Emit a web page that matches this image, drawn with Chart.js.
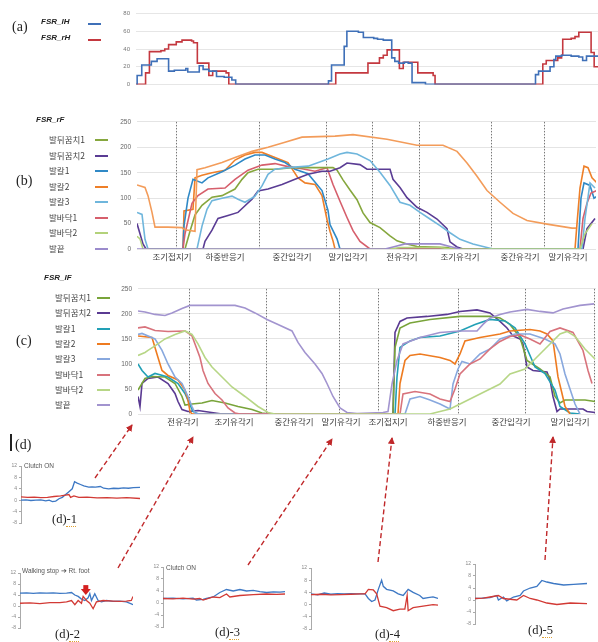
<!DOCTYPE html>
<html>
<head>
<meta charset="utf-8">
<script src="https://cdn.jsdelivr.net/npm/chart.js@4.4.1/dist/chart.umd.min.js"></script>
<style>
  body { margin: 0; background: #fff; }
  #wrap { position: relative; width: 598px; height: 642px; overflow: hidden; font-family: "Noto Sans CJK KR", sans-serif; }
  canvas, .t, svg { position: absolute; }
  .t { white-space: nowrap; line-height: 1; }
  .panel { font-family: "Liberation Serif", serif; font-size: 14px; color: #222; }
  .fsr { font-family: "Liberation Sans", sans-serif; font-weight: bold; font-style: italic; font-size: 8px; color: #222; }
  .leg { font-size: 8.5px; color: #444; }
  .sw { position: absolute; height: 2px; width: 13px; }
  .small { font-family: "Liberation Sans", sans-serif; font-size: 6.5px; color: #555; }
  .dl { font-family: "Liberation Serif", serif; font-size: 12.5px; color: #222; }
</style>
</head>
<body>
<div id="wrap">
  <canvas id="ca" width="498" height="90" style="left:100px;top:4px"></canvas>
  <canvas id="cb" width="497" height="155" style="left:100px;top:112px"></canvas>
  <canvas id="cc" width="497" height="155" style="left:100px;top:279px"></canvas>
  <canvas id="d1" width="1" height="1"></canvas>
  <canvas id="d2" width="1" height="1"></canvas>
  <canvas id="d3" width="1" height="1"></canvas>
  <canvas id="d4" width="1" height="1"></canvas>
  <canvas id="d5" width="1" height="1"></canvas>
  <svg id="arrows" width="598" height="642" style="left:0;top:0"></svg>
</div>
<script>
// ---- (a) heel FSR, stepped: [frame, value]
const lH = [[2,0],[3,10],[15,22],[40,26],[55,29],[85,15],[100,16],[130,18],[135,14],[165,21],[175,17],[190,15],[210,9],[230,8],[250,5],[260,0],
  [500,0],[502,4],[510,22],[540,22],[543,43],[550,60],[580,59],[593,53],[620,52],[630,51],[645,50],[665,50],[667,30],[675,26],[685,24],[700,25],[710,24],[720,2],[755,0],
  [1040,0],[1042,11],[1050,15],[1065,15],[1080,20],[1090,28],[1095,32],[1110,33],[1135,32],[1155,31],[1165,27],[1175,32],[1205,31]];
const rH = [[0,0],[25,13],[35,37],[65,38],[75,40],[85,45],[105,48],[120,50],[145,49],[150,47],[160,24],[190,10],[200,15],[225,15],[235,13],[242,0],
  [520,0],[521,13],[605,24],[630,24],[635,30],[645,33],[655,39],[685,39],[687,18],[697,25],[730,25],[735,13],[770,13],[775,10],[780,0],
  [1060,0],[1061,23],[1070,27],[1095,27],[1100,30],[1110,33],[1113,51],[1135,52],[1145,54],[1155,59],[1185,59],[1187,36],[1195,20],[1205,20]];

// ---- (b) FSR_rF
const rF_heel1 = [[48,0],[53,35],[58,67],[65,86],[75,102],[85,105],[98,118],[105,137],[111,150],[121,157],[138,157],[155,160],[196,160],[200,155],[206,136],[213,116],[220,97],[226,71],[233,52],[243,42],[253,26],[260,16],[270,10],[280,5],[310,3],[316,0]];
const rF_heel2 = [[0,50],[3,30],[6,10],[9,0],[66,0],[68,15],[75,37],[81,60],[91,66],[101,72],[108,85],[115,98],[121,114],[131,118],[145,127],[158,137],[171,147],[185,153],[193,153],[203,160],[210,169],[223,166],[230,157],[253,157],[256,137],[263,121],[270,101],[280,82],[290,72],[300,59],[310,40],[313,14],[320,4],[326,0],[446,0],[450,40],[458,60]];
const rF_mid1 = [[46,0],[47,46],[51,100],[56,137],[65,130],[71,140],[85,152],[98,165],[108,177],[118,185],[128,185],[138,177],[148,170],[158,157],[171,148],[185,115],[191,76],[193,48],[200,20],[203,0],[441,0],[444,100],[447,130],[453,125],[457,100],[461,105]];
const rF_mid2 = [[46,0],[47,75],[56,78],[58,140],[65,145],[75,150],[88,155],[98,175],[108,185],[118,190],[125,190],[138,180],[151,170],[161,140],[168,130],[178,127],[185,105],[190,58],[193,35],[196,16],[198,0],[438,0],[440,50],[443,120],[447,163],[451,160],[455,140],[460,130]];
const rF_mid2b = [[0,126],[8,121],[11,105],[15,72],[18,43],[31,43],[45,42],[48,38],[58,35],[60,156],[68,160],[85,170],[98,180],[115,192],[131,200],[148,210],[165,220],[198,222],[216,225],[250,216],[280,204],[306,204],[320,192],[330,169],[340,143],[350,115],[363,92],[376,70],[390,56],[410,49],[435,41],[439,41]];
const rF_mid3 = [[0,72],[5,68],[8,19],[11,0],[60,0],[65,45],[70,78],[75,95],[85,100],[95,104],[101,98],[108,92],[118,104],[125,124],[131,147],[138,157],[151,160],[171,163],[191,177],[203,187],[210,190],[220,187],[233,174],[243,151],[253,125],[263,92],[273,86],[283,72],[293,59],[303,46],[313,32],[323,19],[336,10],[350,3],[356,0],[445,0],[448,60],[453,130],[458,120]];
const rF_sole1 = [[46,0],[48,30],[55,90],[61,105],[71,118],[88,120],[98,137],[111,155],[125,165],[138,168],[151,162],[165,158],[178,153],[190,160],[196,127],[203,94],[210,62],[216,36],[223,15],[233,0],[443,0],[446,60],[450,90],[454,110],[460,115]];
const rF_sole2 = [[0,25],[3,20],[6,0],[253,0],[263,3],[303,3],[313,0],[443,0],[448,30],[455,50]];
const rF_toe = [[0,0],[248,0],[258,5],[268,10],[303,10],[313,5],[323,0]];
const rF_phases = [39, 122, 189, 235, 282, 354, 407];
const rF_labelAt = [35, 88, 155, 211, 265, 323, 383, 431];
const rF_labels = ['조기접지기', '하중반응기', '중간입각기', '말기입각기', '전유각기', '조기유각기', '중간유각기', '말기유각기'];

// ---- (c) FSR_lF
const lF_heel1 = [[0,48],[7,71],[14,75],[27,74],[37,61],[44,35],[47,18],[54,20],[64,22],[74,27],[87,22],[100,15],[114,9],[124,2],[132,0],[255,0],[257,133],[262,172],[272,182],[292,189],[322,195],[352,195],[362,192],[372,179],[382,153],[389,107],[402,90],[412,74],[417,35],[422,22],[427,28],[447,28],[457,25]];
const lF_heel2 = [[0,35],[2,15],[4,61],[10,71],[20,74],[30,61],[37,41],[40,25],[44,9],[50,5],[60,7],[77,2],[84,0],[255,0],[257,163],[262,185],[269,192],[289,195],[309,199],[322,205],[339,208],[352,202],[362,185],[369,172],[375,156],[382,150],[385,140],[389,94],[395,87],[409,84],[412,68],[415,35],[419,5],[422,10],[445,10],[449,5],[457,3]];
const lF_mid1 = [[0,100],[4,87],[10,74],[17,81],[30,74],[40,61],[47,41],[52,18],[55,5],[60,0],[257,0],[259,74],[262,133],[272,146],[282,153],[302,156],[322,166],[337,179],[352,189],[367,186],[377,172],[387,140],[397,94],[407,81],[417,48],[422,15],[432,2],[442,0]];
const lF_mid2 = [[0,156],[14,153],[17,133],[20,113],[24,87],[30,77],[40,68],[47,48],[50,28],[52,5],[54,0],[260,0],[262,61],[267,107],[272,117],[282,120],[302,113],[312,107],[317,100],[322,120],[327,146],[342,153],[362,160],[372,166],[392,169],[402,166],[409,160],[415,146],[420,74],[424,41],[427,15],[432,0]];
const lF_mid3 = [[0,159],[4,161],[17,150],[24,127],[30,100],[37,74],[44,61],[50,35],[54,15],[57,2],[62,0],[267,0],[272,30],[282,35],[292,28],[302,20],[312,10],[315,60],[320,90],[324,105],[332,100],[342,120],[352,130],[362,150],[377,160],[392,160],[407,150],[417,140],[422,120],[427,80],[432,50],[437,20],[442,0]];
const lF_sole1 = [[0,172],[7,174],[17,167],[30,165],[47,166],[54,156],[57,140],[62,113],[65,87],[70,61],[77,41],[84,28],[90,12],[97,2],[102,0],[262,0],[265,40],[277,45],[292,40],[302,30],[312,25],[317,50],[322,80],[332,100],[342,110],[352,130],[362,145],[372,155],[382,158],[392,150],[402,140],[412,165],[422,172],[435,163],[445,127],[450,87],[454,61]];
const lF_sole2 = [[0,117],[7,123],[10,127],[17,136],[27,150],[37,159],[47,166],[54,159],[60,140],[67,113],[74,94],[84,74],[94,54],[107,35],[120,15],[130,3],[137,0],[292,0],[302,5],[312,10],[322,20],[342,40],[362,60],[372,80],[387,90],[397,110],[412,140],[422,160],[429,165],[437,155],[447,130],[457,110]];
const lF_toe = [[0,206],[7,204],[17,199],[27,197],[34,202],[44,211],[52,217],[97,217],[107,212],[117,202],[129,189],[140,179],[154,166],[160,143],[167,123],[177,100],[184,81],[189,61],[195,35],[202,12],[209,3],[219,1],[245,3],[250,5],[254,60],[259,107],[265,140],[282,153],[302,163],[322,166],[339,166],[345,179],[352,192],[362,199],[372,204],[389,209],[402,205],[415,202],[425,210],[442,217],[456,220]];
const lF_phases = [51, 128, 201, 240, 320, 387, 456];
const lF_labelAt = [45, 96, 156, 203, 250, 309, 373, 432];
const lF_labels = ['전유각기', '조기유각기', '중간유각기', '말기유각기', '조기접지기', '하중반응기', '중간입각기', '말기입각기'];

const legendNames = ['발뒤꿈치1', '발뒤꿈치2', '발칼1', '발칼2', '발칼3', '발바닥1', '발바닥2', '발끝'];

// ---- (d) clutch torque traces
const d1_blue = [[0,0],[15,0.1],[30,-0.1],[45,0],[60,0.1],[75,-0.2],[85,0],[95,-0.5],[105,-0.3],[115,0.5],[125,1],[135,2],[145,3],[155,4],[162,6.5],[170,6],[180,5.5],[190,5],[205,4.6],[215,4.7],[225,4.6],[240,4.8],[250,4.2],[265,4],[280,4.2],[295,4.1],[310,4.3],[325,4.2],[340,4.4],[360,4.5]];
const d1_red = [[0,1.2],[20,1],[40,1.1],[60,0.9],[80,1],[100,1.3],[120,1.5],[135,1.8],[145,2],[150,1],[160,1.5],[175,1],[200,1.1],[230,0.8],[260,0.9],[290,0.7],[320,0.9],[360,0.6]];
const d2_blue = [[0,4.7],[20,4.8],[40,4.6],[60,4.8],[80,4.7],[100,4.8],[120,4.6],[140,4.7],[155,4.9],[165,4],[175,3.5],[185,2.5],[195,2],[205,3],[210,4.5],[215,2],[225,4.5],[235,2],[245,1.5],[260,2],[280,1.7],[300,1.8],[320,1.5],[335,0.8],[340,0.5]];
const d2_red = [[0,1],[30,1.1],[60,0.9],[90,1.2],[120,1.2],[140,1.5],[155,2],[165,0.5],[175,2],[185,1],[190,3.5],[200,2],[210,1],[220,-1],[230,1.5],[250,2],[280,1.8],[300,1.7],[320,1.8],[335,2],[340,3.5]];
const d3_blue = [[0,1.5],[30,1.6],[60,1.4],[90,1.6],[100,1],[120,1.2],[130,1.5],[150,2],[170,3.5],[190,4.5],[210,4],[230,4.5],[250,4],[270,4.2],[290,3.8],[310,3.5],[330,3.7],[350,3.6],[365,3.8]];
const d3_red = [[0,1.5],[30,1.4],[60,1.6],[90,1.3],[110,1.5],[120,1],[150,2],[170,1.8],[190,3],[200,2],[230,2.5],[270,2.8],[310,3],[340,2.9],[365,3]];
const d4_blue = [[0,3.5],[20,3.2],[40,3.8],[60,3.4],[80,3.6],[100,3.5],[120,3.6],[140,3.5],[163,3.5],[173,2],[183,1],[193,1.5],[203,5],[213,8],[218,6],[228,5],[248,4.5],[263,3.5],[278,3],[293,5],[308,4],[328,3],[338,2],[353,2.3],[368,2.5],[383,2]];
const d4_red = [[0,3.3],[30,3.4],[60,3.2],[90,3.3],[120,3.4],[150,3.5],[163,3.5],[173,5],[188,4.8],[198,3.5],[208,-0.5],[228,-1],[248,-2],[268,-1.5],[283,-1.5],[290,3],[293,-2],[308,-1],[338,-0.5],[368,0],[383,-0.2]];
const d5_blue = [[0,0.5],[20,0.6],[45,0.8],[65,1.5],[70,0],[85,1],[95,-0.3],[115,1],[135,1.5],[145,3],[165,4],[185,4.5],[200,6.5],[215,6],[235,5.5],[265,5],[295,5.2],[335,5.5]];
const d5_red = [[0,0.5],[25,0.6],[45,1],[70,1.5],[85,0.5],[125,0],[145,1.5],[165,0.5],[185,0],[215,-1],[245,-1.5],[285,-1],[335,-1.2]];
const dTicks = [-8, 12, 4];
const d2_stopMark = [198, 7.6];

const wrap = document.getElementById('wrap');
function text(str, cls, x, y, extra) {
  const el = document.createElement('div');
  el.className = 't ' + cls;
  el.textContent = str;
  el.style.left = x + 'px';
  el.style.top = y + 'px';
  if (extra) Object.assign(el.style, extra);
  wrap.appendChild(el);
  return el;
}
function swatch(color, x, y) {
  const el = document.createElement('div');
  el.className = 'sw';
  el.style.background = color;
  el.style.left = x + 'px';
  el.style.top = y + 'px';
  wrap.appendChild(el);
}
const pts = arr => arr.map(p => ({ x: p[0], y: p[1] }));
const tickFont = { family: 'Liberation Sans', size: 6.5 };

const phaseLines = {
  id: 'phaseLines',
  beforeDatasetsDraw(chart, args, opts) {
    if (!opts.at) return;
    const { ctx, chartArea: a, scales: { x } } = chart;
    ctx.save();
    ctx.strokeStyle = '#555';
    ctx.lineWidth = 0.8;
    ctx.setLineDash([1.5, 1.5]);
    opts.at.forEach(v => {
      const px = Math.round(x.getPixelForValue(v)) + 0.5;
      ctx.beginPath();
      ctx.moveTo(px, a.top);
      ctx.lineTo(px, a.bottom);
      ctx.stroke();
    });
    ctx.restore();
  }
};

// (a)
new Chart(document.getElementById('ca'), {
  type: 'line',
  data: {
    datasets: [
      { data: pts(lH), borderColor: '#3f70b8', borderWidth: 1.6, stepped: true, pointRadius: 0 },
      { data: pts(rH), borderColor: '#c4383f', borderWidth: 1.6, stepped: true, pointRadius: 0 }
    ]
  },
  options: {
    responsive: false, animation: false, devicePixelRatio: 1,
    layout: { padding: { top: 8, bottom: 3, right: 0 } },
    plugins: { legend: { display: false }, tooltip: { enabled: false } },
    scales: {
      x: { type: 'linear', min: 0, max: 1205, display: false },
      y: {
        min: 0, max: 80, ticks: { stepSize: 20, font: { family: 'Liberation Sans', size: 6 }, color: '#777', padding: 6 },
        grid: { color: '#e6e6e6', drawTicks: false }, border: { display: false },
        afterFit: s => { s.width = 36; }
      }
    }
  }
});

function fsrChart(id, sets, phases, labelAt, labels, xmax, axisW, axisH) {
  return new Chart(document.getElementById(id), {
    type: 'line',
    data: {
      datasets: sets.map(s => ({ data: pts(s[0]), borderColor: s[1], borderWidth: 1.6, pointRadius: 0, tension: 0 }))
    },
    options: {
      responsive: false, animation: false, devicePixelRatio: 1,
      layout: { padding: { top: 8, right: 1 } },
      plugins: { legend: { display: false }, tooltip: { enabled: false }, phaseLines: { at: phases } },
      scales: {
        x: {
          type: 'linear', min: 0, max: xmax,
          afterBuildTicks: s => { s.ticks = labelAt.map(v => ({ value: v })); },
          ticks: { autoSkip: false, maxRotation: 0, callback: (v, i) => labels[i], font: { family: 'Noto Sans CJK KR', size: 8.5 }, color: '#404040', padding: 3 },
          grid: { display: false, drawTicks: false }, border: { display: false },
          afterFit: s => { s.height = axisH; }
        },
        y: {
          min: 0, max: 250, ticks: { stepSize: 50, font: tickFont, color: '#666', padding: 6 },
          grid: { color: '#e4e4e4', drawTicks: false }, border: { display: false },
          afterFit: s => { s.width = axisW; }
        }
      }
    },
    plugins: [phaseLines]
  });
}

const rFcolors = ['#86a73e', '#5a3c94', '#3089c6', '#ee7f28', '#6fb6dc', '#d65f6c', '#b3d27a', '#9b8bcc'];
fsrChart('cb', [
  [rF_toe, rFcolors[7]], [rF_sole2, rFcolors[6]], [rF_mid2b, '#f39c5a'],
  [rF_mid3, rFcolors[4]], [rF_heel2, rFcolors[1]], [rF_heel1, rFcolors[0]],
  [rF_sole1, rFcolors[5]], [rF_mid1, rFcolors[2]], [rF_mid2, rFcolors[3]]
], rF_phases, rF_labelAt, rF_labels, 459, 37, 18);

const lFcolors = ['#79a43a', '#5a3a92', '#22a0b6', '#ee7b20', '#88a8de', '#d8737c', '#b7d686', '#a294cf'];
fsrChart('cc', [
  [lF_sole2, lFcolors[6]], [lF_sole1, lFcolors[5]], [lF_mid3, lFcolors[4]], [lF_toe, lFcolors[7]],
  [lF_mid2, lFcolors[3]], [lF_mid1, lFcolors[2]], [lF_heel1, lFcolors[0]], [lF_heel2, lFcolors[1]]
], lF_phases, lF_labelAt, lF_labels, 458, 38, 20);

// small clutch charts
const stopMark = {
  id: 'stopMark',
  afterDatasetsDraw(chart, args, opts) {
    if (!opts.at) return;
    const { ctx, scales: { x, y } } = chart;
    const px = x.getPixelForValue(opts.at[0]), py = y.getPixelForValue(opts.at[1]);
    ctx.save();
    ctx.fillStyle = '#d42020';
    ctx.fillRect(px - 2.5, py, 5, 4);
    ctx.beginPath();
    ctx.moveTo(px - 5, py + 4); ctx.lineTo(px + 5, py + 4); ctx.lineTo(px, py + 10); ctx.closePath();
    ctx.fill();
    ctx.restore();
  }
};
function smallChart(id, box, blue, red, xmax, mark) {
  const axisW = 21, padT = 6, padB = 3, padR = 2;
  const cv = document.getElementById(id);
  cv.width = box.right - box.left + axisW + padR;
  cv.height = box.bottom - box.top + padT + padB;
  cv.style.left = (box.left - axisW) + 'px';
  cv.style.top = (box.top - padT) + 'px';
  new Chart(cv, {
    type: 'line',
    data: {
      datasets: [
        { data: pts(red), borderColor: '#d23a35', borderWidth: 1.3, pointRadius: 0 },
        { data: pts(blue), borderColor: '#3d78c4', borderWidth: 1.3, pointRadius: 0 }
      ]
    },
    options: {
      responsive: false, animation: false, devicePixelRatio: 1,
      layout: { padding: { top: padT, bottom: padB, right: padR } },
      plugins: { legend: { display: false }, tooltip: { enabled: false }, stopMark: { at: mark } },
      scales: {
        x: { type: 'linear', min: 0, max: xmax, display: false },
        y: {
          min: dTicks[0], max: dTicks[1],
          ticks: { stepSize: dTicks[2], font: { family: 'Liberation Sans', size: 5 }, color: '#888', padding: 2 },
          grid: { display: true, drawOnChartArea: false, drawTicks: true, tickLength: 2, color: '#aaa' },
          border: { display: true, color: '#aaa' },
          afterFit: s => { s.width = axisW; }
        }
      }
    },
    plugins: [stopMark]
  });
}
smallChart('d1', { left: 21, right: 140, top: 466, bottom: 525 }, d1_blue, d1_red, 360);
smallChart('d2', { left: 20, right: 133, top: 573, bottom: 630 }, d2_blue, d2_red, 340, d2_stopMark);
smallChart('d3', { left: 163, right: 285, top: 567, bottom: 629 }, d3_blue, d3_red, 365);
smallChart('d4', { left: 311, right: 438, top: 568, bottom: 631 }, d4_blue, d4_red, 383);
smallChart('d5', { left: 475, right: 587, top: 564, bottom: 626 }, d5_blue, d5_red, 335);

// texts
text('(a)', 'panel', 12, 20);
text('(b)', 'panel', 16, 174);
text('(c)', 'panel', 16, 334);
text('(d)', 'panel', 15, 438);
const bar = document.createElement('div');
Object.assign(bar.style, { position: 'absolute', left: '10px', top: '434px', width: '2px', height: '17px', background: '#222' });
wrap.appendChild(bar);

text('FSR_lH', 'fsr', 41, 18);
swatch('#3f70b8', 88, 23);
text('FSR_rH', 'fsr', 41, 34);
swatch('#c4383f', 88, 39);

text('FSR_rF', 'fsr', 36, 116);
legendNames.forEach((n, i) => {
  const y = 140 + i * 15.5;
  text(n, 'leg', 49, y - 5);
  swatch(rFcolors[i], 95, y - 1);
});
text('FSR_lF', 'fsr', 44, 274);
legendNames.forEach((n, i) => {
  const y = 298 + i * 15.3;
  text(n, 'leg', 55, y - 5);
  swatch(lFcolors[i], 97, y - 1);
});

text('Clutch ON', 'small', 24, 463);
text('Walking stop \u2794 Rt. foot', 'small', 22, 568);
text('Clutch ON', 'small', 166, 565);
const dls = [['(d)-1', 52, 513], ['(d)-2', 55, 628], ['(d)-3', 215, 626], ['(d)-4', 375, 628], ['(d)-5', 528, 624]];
dls.forEach(d => {
  text(d[0], 'dl', d[1], d[2]);
  const u = document.createElement('div');
  Object.assign(u.style, { position: 'absolute', left: (d[1] + 14) + 'px', top: (d[2] + 13) + 'px', width: '10px', borderBottom: '1px dotted #e0a030' });
  wrap.appendChild(u);
});

// dashed arrows from traces to gait phases
const arrows = [[95, 478, 132, 425], [118, 568, 193, 437], [248, 565, 332, 439], [378, 562, 392, 438], [545, 560, 553, 437]];
const svg = document.getElementById('arrows');
let s = '<defs><marker id="ah" markerWidth="7" markerHeight="7" refX="6" refY="3.5" orient="auto" markerUnits="userSpaceOnUse"><path d="M0,0 L7,3.5 L0,7 Z" fill="#c0282a"/></marker></defs>';
arrows.forEach(a => {
  s += `<line x1="${a[0]}" y1="${a[1]}" x2="${a[2]}" y2="${a[3]}" stroke="#c0282a" stroke-width="1.4" stroke-dasharray="5,3" marker-end="url(#ah)"/>`;
});
svg.innerHTML = s;
</script>
</body>
</html>
